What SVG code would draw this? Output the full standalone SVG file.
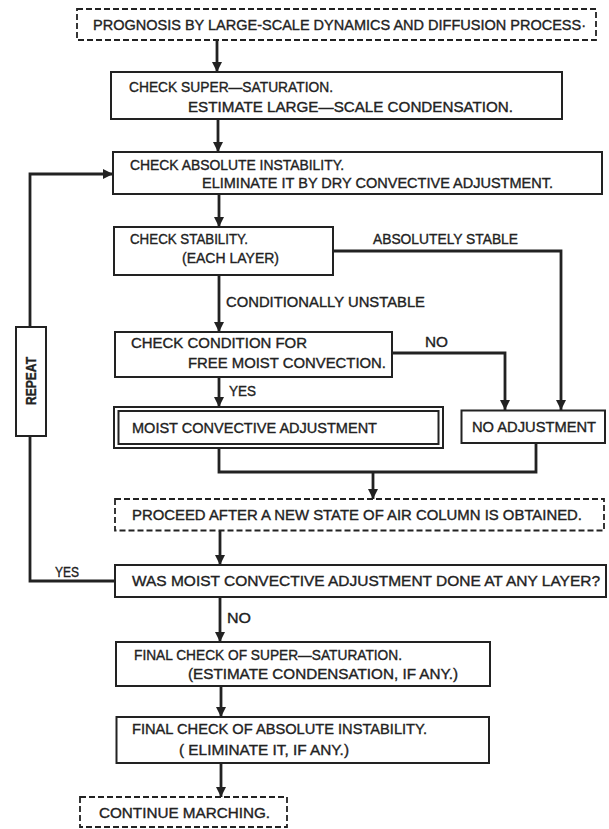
<svg xmlns="http://www.w3.org/2000/svg" width="609" height="829" viewBox="0 0 609 829">
<defs>
<style>
.box{fill:#fff;stroke:#222;stroke-width:2}
.dash{fill:#fff;stroke:#222;stroke-width:1.8;stroke-dasharray:6 3}
.t{font-family:"Liberation Sans",Arial,sans-serif;font-size:14px;fill:#222;stroke:#222;stroke-width:0.35}
.c{fill:none;stroke:#222;stroke-width:2.8}
</style>
<marker id="ah" markerUnits="userSpaceOnUse" markerWidth="10" markerHeight="12" refX="10" refY="5" orient="auto">
<path d="M0,0 L10,5 L0,10 z" fill="#222"/>
</marker>
</defs>
<rect width="609" height="829" fill="#fff"/>
<g id="connectors">
<line class="c" x1="217" y1="40" x2="217" y2="72" marker-end="url(#ah)"/>
<line class="c" x1="218" y1="119" x2="218" y2="152" marker-end="url(#ah)"/>
<line class="c" x1="219" y1="194" x2="219" y2="227" marker-end="url(#ah)"/>
<polyline class="c" points="333,251 561,251 561,410" marker-end="url(#ah)"/>
<line class="c" x1="219" y1="275" x2="219" y2="332" marker-end="url(#ah)"/>
<polyline class="c" points="392,353 505,353 505,410" marker-end="url(#ah)"/>
<line class="c" x1="219" y1="377" x2="219" y2="407" marker-end="url(#ah)"/>
<polyline class="c" points="219,448 219,472 536,472 536,443"/>
<line class="c" x1="373" y1="472" x2="373" y2="499" marker-end="url(#ah)"/>
<line class="c" x1="220" y1="531" x2="220" y2="565" marker-end="url(#ah)"/>
<polyline class="c" points="115,581 30,581 30,436"/>
<polyline class="c" points="30,327 30,174 113,174" marker-end="url(#ah)"/>
<line class="c" x1="220" y1="597" x2="220" y2="642" marker-end="url(#ah)"/>
<line class="c" x1="221" y1="686" x2="221" y2="717" marker-end="url(#ah)"/>
<line class="c" x1="221" y1="763" x2="221" y2="797" marker-end="url(#ah)"/>
<text class="t" x="373" y="244" textLength="145" lengthAdjust="spacingAndGlyphs">ABSOLUTELY STABLE</text>
<text class="t" x="226" y="307" textLength="199" lengthAdjust="spacingAndGlyphs">CONDITIONALLY UNSTABLE</text>
<text class="t" x="425" y="347" textLength="23" lengthAdjust="spacingAndGlyphs">NO</text>
<text class="t" x="229" y="396" textLength="27" lengthAdjust="spacingAndGlyphs">YES</text>
<text class="t" x="55" y="577" textLength="24" lengthAdjust="spacingAndGlyphs">YES</text>
<text class="t" x="227" y="623" textLength="24" lengthAdjust="spacingAndGlyphs">NO</text>
</g>
<g id="n1">
<rect class="dash" x="77" y="9" width="519" height="31"/>
<text class="t" x="93" y="30" textLength="493" lengthAdjust="spacingAndGlyphs">PROGNOSIS BY LARGE-SCALE DYNAMICS AND DIFFUSION PROCESS·</text>
</g>
<g id="n2">
<rect class="box" x="111" y="72" width="451" height="47"/>
<text class="t" x="129" y="92" textLength="204" lengthAdjust="spacingAndGlyphs">CHECK SUPER—SATURATION.</text>
<text class="t" x="188" y="112" textLength="325" lengthAdjust="spacingAndGlyphs">ESTIMATE LARGE—SCALE CONDENSATION.</text>
</g>
<g id="n3">
<rect class="box" x="113" y="152" width="489" height="42"/>
<text class="t" x="130" y="170" textLength="214" lengthAdjust="spacingAndGlyphs">CHECK ABSOLUTE INSTABILITY.</text>
<text class="t" x="202" y="188" textLength="351" lengthAdjust="spacingAndGlyphs">ELIMINATE IT BY DRY CONVECTIVE ADJUSTMENT.</text>
</g>
<g id="n4">
<rect class="box" x="114" y="227" width="219" height="48"/>
<text class="t" x="130" y="244" textLength="118" lengthAdjust="spacingAndGlyphs">CHECK STABILITY.</text>
<text class="t" x="182" y="263" textLength="97" lengthAdjust="spacingAndGlyphs">(EACH LAYER)</text>
</g>
<g id="n5">
<rect class="box" x="115" y="332" width="277" height="45"/>
<text class="t" x="131" y="348" textLength="176" lengthAdjust="spacingAndGlyphs">CHECK CONDITION FOR</text>
<text class="t" x="188" y="368" textLength="198" lengthAdjust="spacingAndGlyphs">FREE MOIST CONVECTION.</text>
</g>
<g id="n6">
<rect class="box" x="114" y="407" width="329" height="41" stroke-width="2.4"/>
<rect class="box" x="118.5" y="411" width="320" height="33"/>
<text class="t" x="132" y="433" textLength="245" lengthAdjust="spacingAndGlyphs">MOIST CONVECTIVE ADJUSTMENT</text>
</g>
<g id="n7">
<rect class="box" x="461.5" y="410.5" width="143.5" height="32.5"/>
<text class="t" x="472" y="432" textLength="124" lengthAdjust="spacingAndGlyphs">NO ADJUSTMENT</text>
</g>
<g id="n8">
<rect class="dash" x="115" y="499" width="489" height="31.5"/>
<text class="t" x="132" y="520" textLength="450" lengthAdjust="spacingAndGlyphs">PROCEED AFTER A NEW STATE OF AIR COLUMN IS OBTAINED.</text>
</g>
<g id="n9">
<rect class="box" x="115" y="565" width="491" height="32"/>
<text class="t" x="132" y="586" textLength="468" lengthAdjust="spacingAndGlyphs">WAS MOIST CONVECTIVE ADJUSTMENT DONE AT ANY LAYER?</text>
</g>
<g id="n10">
<rect class="box" x="116" y="642" width="374" height="44"/>
<text class="t" x="134" y="660" textLength="268" lengthAdjust="spacingAndGlyphs">FINAL CHECK OF SUPER—SATURATION.</text>
<text class="t" x="188" y="679" textLength="270" lengthAdjust="spacingAndGlyphs">(ESTIMATE CONDENSATION, IF ANY.)</text>
</g>
<g id="n11">
<rect class="box" x="116.5" y="717" width="372.5" height="46"/>
<text class="t" x="132" y="734" textLength="295" lengthAdjust="spacingAndGlyphs">FINAL CHECK OF ABSOLUTE INSTABILITY.</text>
<text class="t" x="179" y="755" textLength="170" lengthAdjust="spacingAndGlyphs">( ELIMINATE IT, IF ANY.)</text>
</g>
<g id="n12">
<rect class="dash" x="80" y="797" width="207" height="30"/>
<text class="t" x="99" y="818" textLength="171" lengthAdjust="spacingAndGlyphs">CONTINUE MARCHING.</text>
</g>
<g id="repeat">
<rect class="box" x="16" y="327" width="30" height="109"/>
<text class="t" x="0" y="0" transform="translate(36,405) rotate(-90)" textLength="48" lengthAdjust="spacingAndGlyphs" font-weight="bold" font-size="13" stroke-width="0">REPEAT</text>
</g>
</svg>
